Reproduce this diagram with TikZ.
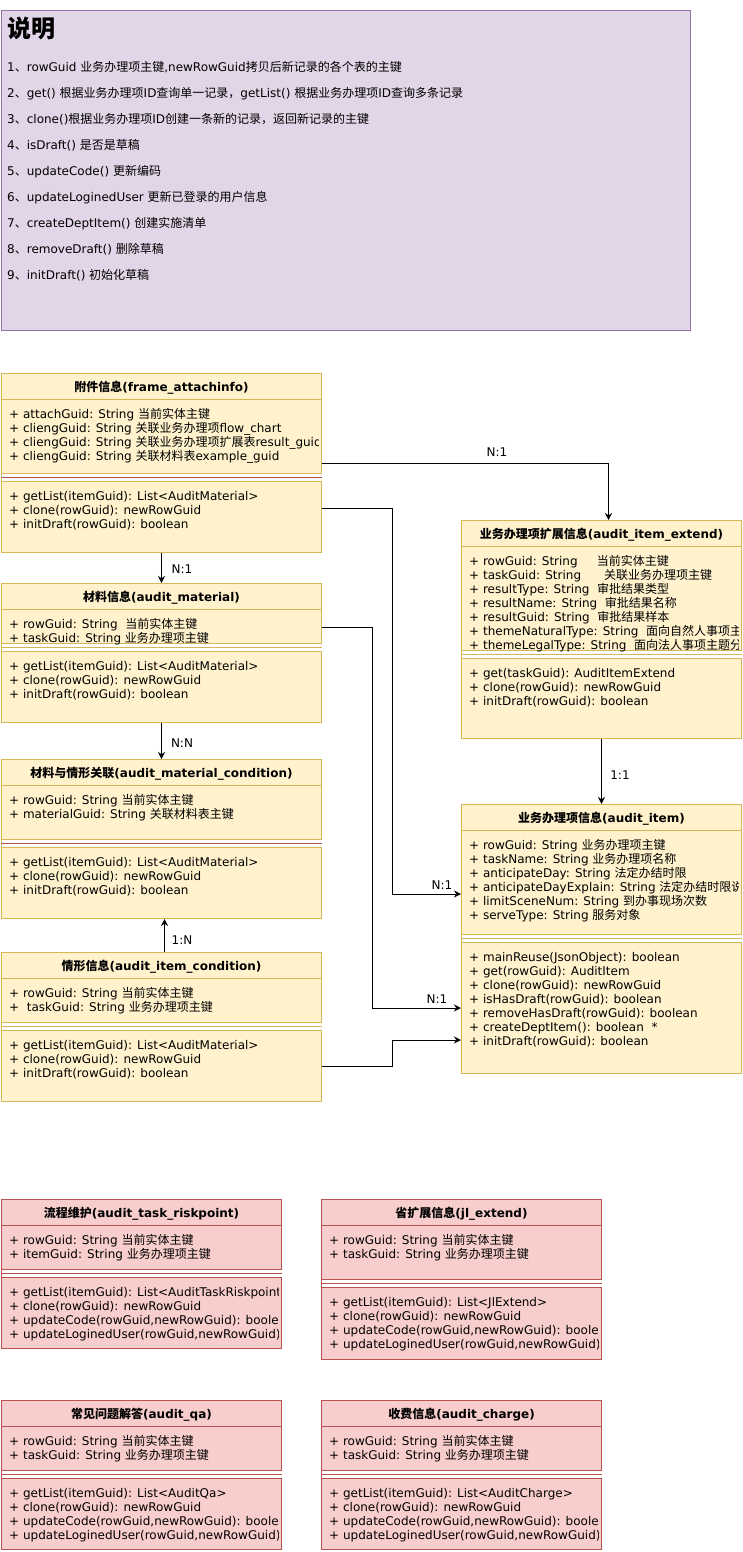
\documentclass[tikz,border=0pt]{standalone}
\usepackage{fontspec}
\setmainfont{DejaVu Sans}
\newfontfamily\cjkfont{Noto Sans CJK SC}
\usepackage{xcolor}
\definecolor{yellowfill}{RGB}{255,242,204}
\definecolor{yellowline}{RGB}{214,182,86}
\definecolor{pinkfill}{RGB}{248,206,204}
\definecolor{pinkline}{RGB}{184,84,80}
\definecolor{purplefill}{RGB}{225,213,231}
\definecolor{purpleline}{RGB}{150,115,166}
\usepackage{tikz}
\usetikzlibrary{calc,positioning,arrows.meta}

% CJK characters switch to the CJK font by themselves
\XeTeXinterchartokenstate=1
\newXeTeXintercharclass\cjkclass
\newcount\cjkcnt
\def\setcjkrange#1#2{\cjkcnt=#1
  \loop\XeTeXcharclass\cjkcnt=\cjkclass
  \ifnum\cjkcnt<#2 \advance\cjkcnt by 1 \repeat}
\setcjkrange{"3000}{"303F}
\setcjkrange{"4E00}{"9FFF}
\setcjkrange{"FF00}{"FFEF}
\cjkcnt=0
\loop\XeTeXinterchartoks\cjkcnt\cjkclass={\begingroup\cjkfont}%
  \XeTeXinterchartoks\cjkclass\cjkcnt={\endgroup}%
  \ifnum\cjkcnt<\numexpr\cjkclass-1\relax\advance\cjkcnt by 1 \repeat
\XeTeXinterchartoks 4095 \cjkclass={\begingroup\cjkfont}
\XeTeXinterchartoks \cjkclass 4095={\endgroup}

% class box: [middle separator], name, colour, x, y, width, height, separator, title
\newcommand{\umlclass}[9][]{%
  \node[classbox=#3, minimum width=#6pt, minimum height=#7pt] (#2) at (#4,#5) {};
  \draw[#3line] ($(#2.north west)+(0,26)$) -- ($(#2.north east)+(0,26)$);
  \fill[white] ($(#2.north west)+(0.5,#8)$) rectangle ($(#2.north east)+(-0.5,#8+8)$);
  \draw[#3line] ($(#2.north west)+(0,#8)$) -- ($(#2.north east)+(0,#8)$);
  \draw[#3line,#1] ($(#2.north west)+(0,#8+4)$) -- ($(#2.north east)+(0,#8+4)$);
  \draw[#3line] ($(#2.north west)+(0,#8+8)$) -- ($(#2.north east)+(0,#8+8)$);
  \coordinate (#2-attr) at ($(#2.north west)+(8,45)$);
  \coordinate (#2-meth) at ($(#2.north west)+(8,#8+27)$);
  \node[classtitle] (#2-title) at ($(#2.north)+(0,18)$) {#9};
}
% fields: name, attributes, methods
\newcommand{\umlfields}[3]{%
  \begin{scope}
    \clip (#1.south west) rectangle ($(#1.north east)+(-4,0)$);
    \foreach \txt [count=\i] in {#2}
      \node[field] (#1-a\i) at ($(#1-attr)+(0,{14*(\i-1)})$) {\txt};
    \foreach \txt [count=\i] in {#3}
      \node[field] (#1-m\i) at ($(#1-meth)+(0,{14*(\i-1)})$) {\txt};
  \end{scope}}

\begin{document}
\begin{tikzpicture}[x=1pt,y=-1pt,
    classbox/.style={draw=#1line, fill=#1fill, line width=1pt, anchor=north west, inner sep=0pt},
    classtitle/.style={anchor=base, inner sep=0pt, font=\fontsize{12}{14}\selectfont\bfseries},
    field/.style={anchor=base west, inner sep=0pt, font=\fontsize{12}{14}\selectfont},
    notebox/.style={draw=purpleline, fill=purplefill, line width=1pt, anchor=north west, inner sep=0pt},
    notetitle/.style={anchor=base west, inner sep=0pt, font=\fontsize{24}{28}\selectfont\bfseries},
    link/.style={line width=1pt, -{Stealth[length=7pt,width=7pt]}},
    rel/.style={inner sep=0pt, font=\fontsize{12}{14}\selectfont}]
  \useasboundingbox (0,0) rectangle (742,1552);
  % Notes
  \node[notebox, minimum width=689pt, minimum height=320pt] (note) at (1,10) {};
  \node[notetitle] (note-title) at (7,38) {说明};
  \foreach \txt [count=\i] in {{1、rowGuid 业务办理项主键,newRowGuid拷贝后新记录的各个表的主键},
      2、get() 根据业务办理项ID查询单一记录，getList() 根据业务办理项ID查询多条记录,
      3、clone()根据业务办理项ID创建一条新的记录，返回新记录的主键,
      4、isDraft() 是否是草稿,
      5、updateCode() 更新编码,
      6、updateLoginedUser 更新已登录的用户信息,
      7、createDeptItem() 创建实施清单,
      8、removeDraft() 删除草稿,
      9、initDraft() 初始化草稿}
    \node[field] (note-\i) at (7,{71.5+26*(\i-1)}) {\txt};
  % Classes
  \umlclass[pinkline]{fa}{yellow}{1}{373}{320}{179}{100}{附件信息(frame\_attachinfo)}
  \umlfields{fa}{+ attachGuid: String 当前实体主键,
      + cliengGuid: String 关联业务办理项flow\_chart,
      + cliengGuid: String 关联业务办理项扩展表result\_guid,
      + cliengGuid: String 关联材料表example\_guid}
    {+ getList(itemGuid): List<AuditMaterial>, + clone(rowGuid): newRowGuid, + initDraft(rowGuid): boolean}
  \umlclass{mat}{yellow}{1}{583}{320}{139}{60}{材料信息(audit\_material)}
  \umlfields{mat}{+ rowGuid: String\ \ 当前实体主键, + taskGuid: String 业务办理项主键}
    {+ getList(itemGuid): List<AuditMaterial>, + clone(rowGuid): newRowGuid, + initDraft(rowGuid): boolean}
  \umlclass[pinkline]{matcond}{yellow}{1}{759}{320}{159}{80}{材料与情形关联(audit\_material\_condition)}
  \umlfields{matcond}{+ rowGuid: String 当前实体主键, + materialGuid: String 关联材料表主键}
    {+ getList(itemGuid): List<AuditMaterial>, + clone(rowGuid): newRowGuid, + initDraft(rowGuid): boolean}
  \umlclass{cond}{yellow}{1}{952}{320}{149}{70}{情形信息(audit\_item\_condition)}
  \umlfields{cond}{+ rowGuid: String 当前实体主键, +\ \ taskGuid: String 业务办理项主键}
    {+ getList(itemGuid): List<AuditMaterial>, + clone(rowGuid): newRowGuid, + initDraft(rowGuid): boolean}
  \umlclass{ext}{yellow}{461}{520}{280}{218}{130}{业务办理项扩展信息(audit\_item\_extend)}
  \umlfields{ext}{+ rowGuid: String\ \ \ \ \ 当前实体主键,
      + taskGuid: String\ \ \ \ \ \ 关联业务办理项主键,
      + resultType: String\ \ 审批结果类型,
      + resultName: String\ \ 审批结果名称,
      + resultGuid: String\ \ 审批结果样本,
      + themeNaturalType: String\ \ 面向自然人事项主题分类,
      + themeLegalType: String\ \ 面向法人事项主题分类}
    {+ get(taskGuid): AuditItemExtend, + clone(rowGuid): newRowGuid, + initDraft(rowGuid): boolean}
  \umlclass{item}{yellow}{461}{804}{280}{269}{130}{业务办理项信息(audit\_item)}
  \umlfields{item}{+ rowGuid: String 业务办理项主键,
      + taskName: String 业务办理项名称,
      + anticipateDay: String 法定办结时限,
      + anticipateDayExplain: String 法定办结时限说明,
      + limitSceneNum: String 到办事现场次数,
      + serveType: String 服务对象}
    {+ mainReuse(JsonObject): boolean, + get(rowGuid): AuditItem, + clone(rowGuid): newRowGuid,
      + isHasDraft(rowGuid): boolean, + removeHasDraft(rowGuid): boolean,
      + createDeptItem(): boolean\ \ *, + initDraft(rowGuid): boolean}
  \umlclass{risk}{pink}{1}{1199}{280}{149}{70}{流程维护(audit\_task\_riskpoint)}
  \umlfields{risk}{+ rowGuid: String 当前实体主键, + itemGuid: String 业务办理项主键}
    {+ getList(itemGuid): List<AuditTaskRiskpoint>, + clone(rowGuid): newRowGuid,
      {+ updateCode(rowGuid,newRowGuid): boolean}, {+ updateLoginedUser(rowGuid,newRowGuid): boolean}}
  \umlclass{jl}{pink}{321}{1199}{280}{160}{80}{省扩展信息(jl\_extend)}
  \umlfields{jl}{+ rowGuid: String 当前实体主键, + taskGuid: String 业务办理项主键}
    {+ getList(itemGuid): List<JlExtend>, + clone(rowGuid): newRowGuid,
      {+ updateCode(rowGuid,newRowGuid): boolean}, {+ updateLoginedUser(rowGuid,newRowGuid): boolean}}
  \umlclass{qa}{pink}{1}{1400}{280}{149}{70}{常见问题解答(audit\_qa)}
  \umlfields{qa}{+ rowGuid: String 当前实体主键, + taskGuid: String 业务办理项主键}
    {+ getList(itemGuid): List<AuditQa>, + clone(rowGuid): newRowGuid,
      {+ updateCode(rowGuid,newRowGuid): boolean}, {+ updateLoginedUser(rowGuid,newRowGuid): boolean}}
  \umlclass{charge}{pink}{321}{1400}{280}{149}{70}{收费信息(audit\_charge)}
  \umlfields{charge}{+ rowGuid: String 当前实体主键, + taskGuid: String 业务办理项主键}
    {+ getList(itemGuid): List<AuditCharge>, + clone(rowGuid): newRowGuid,
      {+ updateCode(rowGuid,newRowGuid): boolean}, {+ updateLoginedUser(rowGuid,newRowGuid): boolean}}
  % Ports
  \coordinate (fa-out1) at ($(fa.north east)+(0,90)$);
  \coordinate (fa-out2) at ($(fa.north east)+(0,135)$);
  \coordinate (mat-out) at ($(mat.north east)+(0,44)$);
  \coordinate (cond-out) at ($(cond.north east)+(0,114)$);
  \coordinate (ext-in) at ($(ext.north)+(7,0)$);
  \coordinate (item-in1) at ($(item.north west)+(0,90)$);
  \coordinate (item-in2) at ($(item.north west)+(0,204)$);
  \coordinate (item-in3) at ($(item.north west)+(0,236)$);
  % Connectors
  \draw[link] (fa-out1) -| (ext-in);
  \draw[link] (fa-out2) -- ++(70,0) |- (item-in1);
  \draw[link] (mat-out) -- ++(50,0) |- (item-in2);
  \draw[link] (cond-out) -- ++(70,0) |- (item-in3);
  \draw[link] (fa.south) -- (mat.north);
  \draw[link] (mat.south) -- (matcond.north);
  \draw[link] ([xshift=3pt]cond.north) -- ([xshift=3pt]matcond.south);
  \draw[link] (ext.south) -- (item.north);
  % Labels
  \node[rel] (r1) at (497,452) {N:1};
  \node[rel] (r2) at (182,569) {N:1};
  \node[rel] (r3) at (182,743) {N:N};
  \node[rel] (r4) at (182,940) {1:N};
  \node[rel] (r5) at (620,775) {1:1};
  \node[rel] (r6) at (442,885) {N:1};
  \node[rel] (r7) at (437,999) {N:1};
\end{tikzpicture}
\end{document}
